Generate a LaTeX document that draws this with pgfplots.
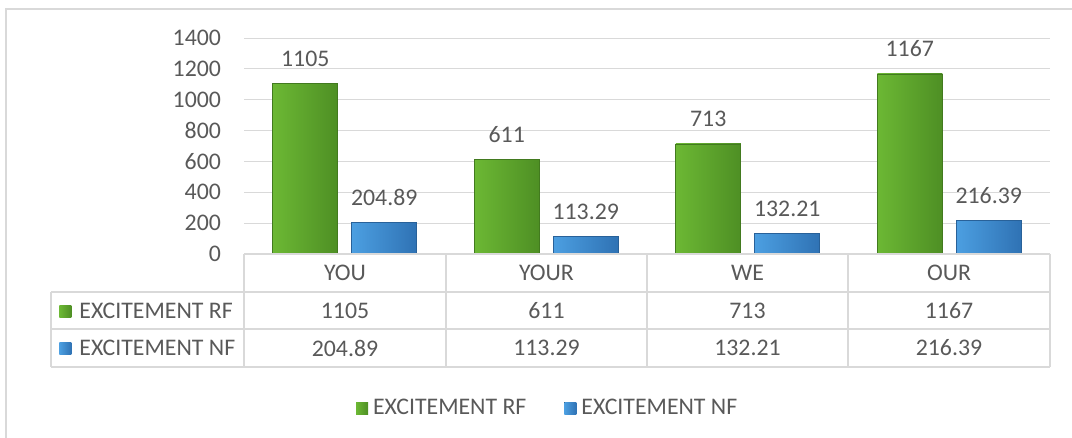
\documentclass[border=0pt]{standalone}
\usepackage{fontspec}
\setmainfont{Carlito}
\usepackage{pgfplots}
\pgfplotsset{compat=1.18}

\definecolor{txt}{HTML}{595959}
\definecolor{gridc}{HTML}{D9D9D9}
\definecolor{gD}{HTML}{4E8F24}
\definecolor{gM}{HTML}{62AD2D}
\definecolor{gL}{HTML}{6CB834}
\definecolor{bD}{HTML}{2F72B4}
\definecolor{bM}{HTML}{3F91D7}
\definecolor{bL}{HTML}{4C9FE1}

\pgfplotsset{
  rfbar/.style={ybar, bar width=32.5pt, bar shift=-19.75pt,
    draw=gD!85!black, line width=0.3pt,
    left color=gL, middle color=gM, right color=gD,
    every node near coord/.append style={xshift=-19.75pt}},
  nfbar/.style={ybar, bar width=32.5pt, bar shift=19.75pt,
    draw=bD!85!black, line width=0.3pt,
    left color=bL, middle color=bM, right color=bD,
    every node near coord/.append style={xshift=19.75pt}},
}

\newcommand{\keyrf}{\tikz[baseline=-0.5pt]\shade[left color=gL,right color=gD] (0,0) rectangle (6pt,6pt);}
\newcommand{\keynf}{\tikz[baseline=-0.5pt]\shade[left color=bL,right color=bD] (0,0) rectangle (6pt,6pt);}

\begin{document}
\begin{tikzpicture}[font=\fontsize{11.9}{14}\selectfont, text=txt]
  \begin{scope}[x=0.5pt,y=-0.5pt]
    \useasboundingbox (0,0) rectangle (1072,438);
    \draw[gridc, line width=0.6pt] (6,460) -- (6,9) -- (1100,9);
  \end{scope}

  \begin{axis}[
    at={(122pt,-127pt)}, anchor=south west,
    scale only axis, width=403pt, height=108pt,
    xmin=-0.5, xmax=3.5, ymin=0, ymax=1400,
    ytick={0,200,...,1400}, xtick=\empty,
    axis line style={draw=none},
    ymajorgrids, grid style={gridc, line width=0.5pt},
    major tick length=0pt,
    yticklabel style={text=txt, xshift=-8pt},
    /pgf/number format/1000 sep={},
    /pgf/number format/assume math mode=true,
    point meta=explicit symbolic,
    nodes near coords,
    nodes near coords style={text=txt, yshift=5pt},
    legend style={at={(0.378,-0.713)}, anchor=center, draw=none, fill=none,
      legend columns=2, text=txt,
      /tikz/every odd column/.append style={column sep=0.5pt},
      /tikz/every even column/.append style={column sep=17pt}},
    legend image code/.code={\fill[#1,draw=none] (0pt,-3pt) rectangle (6pt,3pt);},
    clip=false,
  ]
    \addplot[rfbar] coordinates {(0,1105) [1105]};
    \addlegendentry{EXCITEMENT RF}
    \addplot[nfbar] coordinates {(0,204.89) [204.89]};
    \addlegendentry{EXCITEMENT NF}
    \addplot[rfbar, forget plot] coordinates {(1,611) [611]};
    \addplot[rfbar, forget plot] coordinates {(2,713) [713]};
    \addplot[rfbar, forget plot] coordinates {(3,1167) [1167]};
    \addplot[nfbar, forget plot] coordinates {(1,113.29) [113.29]};
    \addplot[nfbar, forget plot] coordinates {(2,132.21) [132.21]};
    \addplot[nfbar, forget plot] coordinates {(3,216.39) [216.39]};
  \end{axis}

  % data table below the plot
  \begin{scope}[x=0.5pt,y=-0.5pt]
    \draw[gridc, line width=0.7pt]
      (244,254) -- (1050,254)
      (51,292) -- (1050,292)
      (51,329) -- (1050,329)
      (51,367) -- (1050,367)
      (51,292) -- (51,367)
      (244,254) -- (244,367)
      (446,254) -- (446,367)
      (647,254) -- (647,367)
      (848,254) -- (848,367)
      (1050,254) -- (1050,367);
    \node at (345,273) {YOU};
    \node at (546.5,273) {YOUR};
    \node at (747.5,273) {WE};
    \node at (949,273) {OUR};
    \node[anchor=west, inner sep=0pt] at (59,310.5) {\keyrf\hspace{4pt}EXCITEMENT RF};
    \node[anchor=west, inner sep=0pt] at (59,348) {\keynf\hspace{4pt}EXCITEMENT NF};
    \node at (345,310.5) {1105};
    \node at (546.5,310.5) {611};
    \node at (747.5,310.5) {713};
    \node at (949,310.5) {1167};
    \node at (345,348) {204.89};
    \node at (546.5,348) {113.29};
    \node at (747.5,348) {132.21};
    \node at (949,348) {216.39};
  \end{scope}
\end{tikzpicture}
\end{document}
